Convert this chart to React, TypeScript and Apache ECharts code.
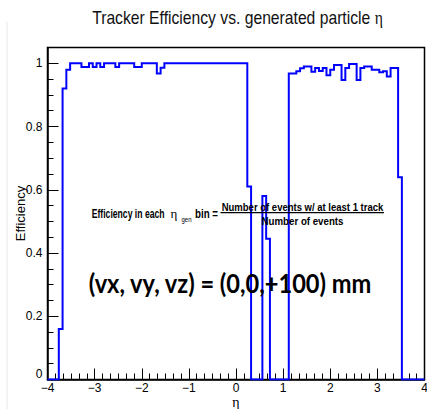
import React, { useEffect, useRef } from "react";
import * as echarts from "echarts";

// ---- data: efficiency per eta bin (100 bins of width 0.08 from -4 to 4) ----
const BIN_START = -4;
const BIN_WIDTH = 0.08;

const lowEdgeBins = [0, 0, 0, 0.16, 0.92, 0.98];
const leftPlateauBins = [
  1, 1, 1, 0.988, 0.988, 1, 0.988, 1, 0.988, 1, 1, 1, 0.988, 1, 1, 1, 1, 0.988, 0.988, 1, 1, 1, 1, 0.968, 0.986,
  1, 1, 1, 1, 1, 1, 1, 1, 1, 1, 1, 1, 1, 1, 1, 1, 1, 1, 1, 1, 1, 1,
];
const centralBins = [0.61, 0, 0, 0, 0.58, 0.445, 0, 0, 0, 0, 0];
const rightPlateauBins = [
  0.968, 0.968, 0.975, 0.984, 0.99, 0.99, 0.973, 0.985, 0.976, 0.985, 0.962, 0.98, 0.995, 0.995, 0.947,
  0.985, 0.998, 0.998, 0.947, 0.985, 0.99, 0.99, 0.98, 0.98, 0.972, 0.975, 0.958, 0.985, 0.985,
];
const highEdgeBins = [0.64, 0, 0, 0, 0, 0, 0];

const efficiency = [...lowEdgeBins, ...leftPlateauBins, ...centralBins, ...rightPlateauBins, ...highEdgeBins];

const TITLE_TEXT = "Tracker Efficiency vs. generated particle ";
const X_NAME = "η";
const Y_NAME = "Efficiency";
const FORMULA_LEFT = "Efficiency in each";
const FORMULA_BIN = "bin =";
const FORMULA_NUM = "Number of events w/ at least 1 track";
const FORMULA_DEN = "Number of events";
const VERTEX_TEXT = "(vx, vy, vz) = (0,0,+100) mm";

const SANS = '"Liberation Sans", Arial, Helvetica, sans-serif';
const SERIF = '"Liberation Serif", "Times New Roman", serif';

function textWidth(text: string, font: string): number {
  const ctx = document.createElement("canvas").getContext("2d");
  if (!ctx) return text.length * 7;
  ctx.font = font;
  return ctx.measureText(text).width || text.length * 7;
}

function buildSteps(): number[][] {
  const pts: number[][] = [];
  efficiency.forEach((v, i) => {
    const lo = +(BIN_START + i * BIN_WIDTH).toFixed(4);
    const hi = +(BIN_START + (i + 1) * BIN_WIDTH).toFixed(4);
    pts.push([lo, v], [hi, v]);
  });
  return pts;
}

function buildOption() {
  const titleScale =
    291 / (textWidth(TITLE_TEXT, `18px ${SANS}`) + textWidth("η", `18px ${SERIF}`));
  const leftScale = 73 / textWidth(FORMULA_LEFT, `bold 12px ${SANS}`);
  const binScale = 23 / textWidth(FORMULA_BIN, `bold 12px ${SANS}`);
  const genScale = 10 / textWidth("gen", `7px ${SANS}`);
  const numScale = 162 / textWidth(FORMULA_NUM, `bold 11px ${SANS}`);
  const denScale = 82 / textWidth(FORMULA_DEN, `bold 11px ${SANS}`);
  const bigScale = 284 / textWidth(VERTEX_TEXT, `bold 27px Lato, ${SANS}`);

  const tickLine = { color: "#000", width: 1 };

  return {
    animation: false,
    backgroundColor: "#fff",
    grid: {
      left: 47.5,
      right: 2.5,
      top: 47.5,
      bottom: 29.5,
      show: true,
      borderColor: "#000",
      borderWidth: 1.5,
      backgroundColor: "transparent",
      containLabel: false,
      outerBoundsMode: "none",
    },
    xAxis: {
      type: "value",
      min: -4,
      max: 4,
      interval: 1,
      axisLine: { show: true, onZero: false, lineStyle: { color: "#000", width: 1.5 } },
      axisTick: { show: true, inside: true, length: 11, lineStyle: tickLine },
      minorTick: { show: true, splitNumber: 6, length: 6, lineStyle: tickLine },
      splitLine: { show: false },
      axisLabel: {
        color: "#000",
        fontSize: 12,
        fontFamily: SANS,
        margin: 2,
        formatter: (v: number) => (v < 0 ? "\u2212" + Math.abs(v) : String(v)),
      },
      name: X_NAME,
      nameLocation: "middle",
      nameGap: 15.5,
      nameMoveOverlap: false,
      nameTextStyle: { fontFamily: SERIF, fontSize: 14, color: "#000" },
    },
    yAxis: [
      {
        type: "value",
        min: 0,
        max: 1.05,
        interval: 0.2,
        position: "left",
        axisLine: { show: true, onZero: false, lineStyle: { color: "#000", width: 1.5 } },
        axisTick: { show: true, inside: true, length: 11, lineStyle: tickLine },
        splitLine: { show: false },
        axisLabel: {
          color: "#000",
          fontSize: 12,
          fontFamily: SANS,
          margin: 5,
          showMaxLabel: false,
          verticalAlignMinLabel: "bottom",
        },
        name: Y_NAME,
        nameLocation: "middle",
        nameRotate: 90,
        nameGap: 21,
        nameMoveOverlap: false,
        nameTextStyle: { fontFamily: SANS, fontSize: 13, color: "#000" },
      },
      {
        type: "value",
        position: "left",
        offset: 0,
        min: 0,
        max: 1.05,
        interval: 0.05,
        axisLine: { show: false, onZero: false },
        axisTick: { show: true, inside: true, length: 6, lineStyle: tickLine },
        axisLabel: { show: false },
        splitLine: { show: false },
      },
    ],
    series: [
      {
        type: "line",
        data: buildSteps(),
        yAxisIndex: 0,
        showSymbol: false,
        symbol: "none",
        clip: true,
        silent: true,
        z: 3,
        lineStyle: { color: "#0000ff", width: 2, join: "miter" },
      },
    ],
    graphic: [
      {
        type: "line",
        silent: true,
        shape: { x1: 7, y1: 22, x2: 7, y2: 409 },
        style: { stroke: "#e6e6e6", lineWidth: 1 },
      },
      {
        type: "text",
        x: 237.5,
        y: 18,
        scaleX: titleScale,
        z: 10,
        style: {
          text: TITLE_TEXT + "{e|η}",
          fontFamily: SANS,
          fontSize: 18,
          fill: "#111",
          align: "center",
          verticalAlign: "middle",
          rich: { e: { fontFamily: SERIF, fontSize: 18, fill: "#111" } },
        },
      },
      {
        type: "text",
        x: 91.7,
        y: 214,
        scaleX: leftScale,
        z: 10,
        style: {
          text: FORMULA_LEFT,
          fontFamily: SANS,
          fontWeight: "bold",
          fontSize: 12,
          fill: "#000",
          align: "left",
          verticalAlign: "middle",
        },
      },
      {
        type: "text",
        x: 174,
        y: 213,
        z: 10,
        style: {
          text: "η",
          fontFamily: SERIF,
          fontSize: 13,
          fill: "#000",
          align: "center",
          verticalAlign: "middle",
        },
      },
      {
        type: "text",
        x: 181.5,
        y: 219,
        scaleX: genScale,
        z: 10,
        style: {
          text: "gen",
          fontFamily: SANS,
          fontSize: 7,
          fill: "#000",
          align: "left",
          verticalAlign: "middle",
        },
      },
      {
        type: "text",
        x: 195,
        y: 214,
        scaleX: binScale,
        z: 10,
        style: {
          text: FORMULA_BIN,
          fontFamily: SANS,
          fontWeight: "bold",
          fontSize: 12,
          fill: "#000",
          align: "left",
          verticalAlign: "middle",
        },
      },
      {
        type: "text",
        x: 302.5,
        y: 207,
        scaleX: numScale,
        z: 10,
        style: {
          text: FORMULA_NUM,
          fontFamily: SANS,
          fontWeight: "bold",
          fontSize: 11,
          fill: "#000",
          align: "center",
          verticalAlign: "middle",
        },
      },
      {
        type: "line",
        z: 10,
        silent: true,
        shape: { x1: 220.5, y1: 212.7, x2: 384, y2: 212.7 },
        style: { stroke: "#000", lineWidth: 1.2 },
      },
      {
        type: "text",
        x: 302.5,
        y: 221.7,
        scaleX: denScale,
        z: 10,
        style: {
          text: FORMULA_DEN,
          fontFamily: SANS,
          fontWeight: "bold",
          fontSize: 11,
          fill: "#000",
          align: "center",
          verticalAlign: "middle",
        },
      },
      {
        type: "text",
        x: 230,
        y: 282,
        scaleX: bigScale,
        z: 10,
        style: {
          text: VERTEX_TEXT,
          fontFamily: `Lato, ${SANS}`,
          fontWeight: "bold",
          fontSize: 27,
          fill: "#000",
          align: "center",
          verticalAlign: "middle",
        },
      },
    ],
  };
}

export default function App() {
  const ref = useRef<HTMLDivElement>(null);
  useEffect(() => {
    if (!ref.current) return;
    const chart = echarts.init(ref.current, undefined, { renderer: "svg" });
    chart.setOption(buildOption() as any);
    return () => chart.dispose();
  }, []);
  return (
    <div
      ref={ref}
      style={{ position: "fixed", left: 0, top: 0, width: 427, height: 409, background: "#fff" }}
    />
  );
}
